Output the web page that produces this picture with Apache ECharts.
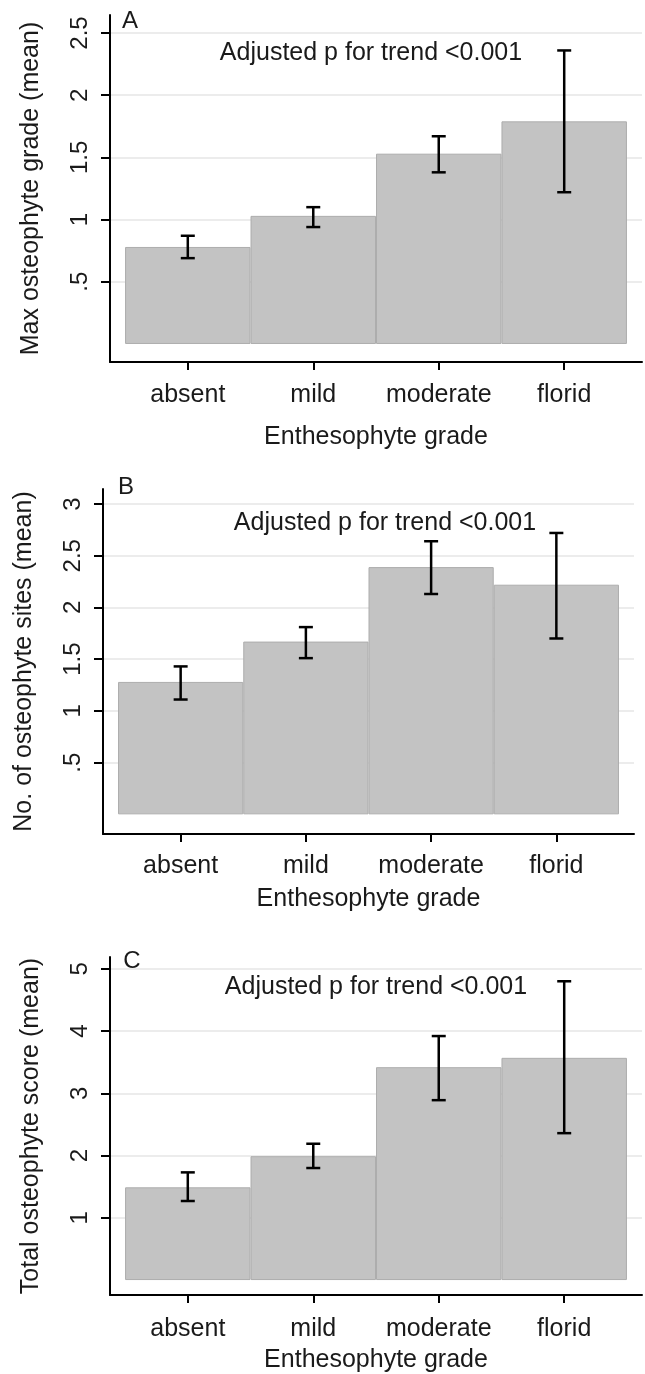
<!DOCTYPE html>
<html>
<head>
<meta charset="utf-8">
<script src="https://cdn.jsdelivr.net/npm/echarts@6/dist/echarts.min.js"></script>
<style>
  html, body { margin: 0; padding: 0; background: #fff; }
  #main { width: 645px; height: 1374px; }
</style>
</head>
<body>
<div id="main"></div>
<script>
var categories = ['absent', 'mild', 'moderate', 'florid'];
var catPos = [1, 2, 3, 4];

// A: max osteophyte grade
var maxGradeMean = [0.78, 1.03, 1.53, 1.79];
var maxGradeLow = [0.69, 0.94, 1.38, 1.22];
var maxGradeHigh = [0.87, 1.10, 1.67, 2.36];
var ticksA = [0.5, 1, 1.5, 2, 2.5];
var tickLabelsA = ['.5', '1', '1.5', '2', '2.5'];

// B: number of osteophyte sites
var sitesMean = [1.28, 1.67, 2.39, 2.22];
var sitesLow = [1.11, 1.51, 2.13, 1.70];
var sitesHigh = [1.43, 1.81, 2.64, 2.72];
var ticksB = [0.5, 1, 1.5, 2, 2.5, 3];
var tickLabelsB = ['.5', '1', '1.5', '2', '2.5', '3'];

// C: total osteophyte score
var scoreMean = [1.49, 1.99, 3.42, 3.57];
var scoreLow = [1.27, 1.80, 2.89, 2.36];
var scoreHigh = [1.73, 2.19, 3.92, 4.80];
var ticksC = [1, 2, 3, 4, 5];
var tickLabelsC = ['1', '2', '3', '4', '5'];

var FONT = 'Liberation Sans, Arial, sans-serif';
var TXT = '#1a1a1a';
var chart = echarts.init(document.getElementById('main'));

var panels = [
    { grid: { left: 110, right: 3, top: 15, height: 347 }, yMin: -0.145, yMax: 2.645,
      ticks: ticksA, tickLabels: tickLabelsA, yName: 'Max osteophyte grade (mean)', xGap: 63, labMargin: 21,
      mean: maxGradeMean, low: maxGradeLow, high: maxGradeHigh,
      letter: 'A', letterPos: [130, 21], notePos: [371, 53] },
    { grid: { left: 103, right: 11, top: 489, height: 345 }, yMin: -0.19, yMax: 3.145,
      ticks: ticksB, tickLabels: tickLabelsB, yName: 'No. of osteophyte sites (mean)', xGap: 53, labMargin: 20,
      mean: sitesMean, low: sitesLow, high: sitesHigh,
      letter: 'B', letterPos: [126, 487], notePos: [385, 523] },
    { grid: { left: 110, right: 3, top: 957, height: 342 }, yMin: -0.24, yMax: 5.19,
      ticks: ticksC, tickLabels: tickLabelsC, yName: 'Total osteophyte score (mean)', xGap: 53, labMargin: 22,
      mean: scoreMean, low: scoreLow, high: scoreHigh,
      letter: 'C', letterPos: [132, 961], notePos: [376, 987] }
];

var grids = [], xAxes = [], yAxes = [], series = [], graphics = [];

panels.forEach(function (p, i) {
    grids.push(p.grid);
    xAxes.push({
        type: 'value', gridIndex: i, min: 0.38, max: 4.62,
        name: 'Enthesophyte grade', nameLocation: 'middle', nameGap: p.xGap,
        nameTextStyle: { fontFamily: FONT, fontSize: 25, color: TXT },
        axisLine: { show: true, onZero: false, lineStyle: { color: '#000', width: 2 } },
        axisTick: { show: true, length: 8, customValues: catPos, lineStyle: { color: '#000', width: 2 } },
        axisLabel: { customValues: catPos, margin: p.labMargin, fontFamily: FONT, fontSize: 25, color: TXT,
            formatter: function (v) { return categories[Math.round(v) - 1]; } },
        splitLine: { show: false }
    });
    yAxes.push({
        type: 'value', gridIndex: i, min: p.yMin, max: p.yMax,
        name: p.yName, nameLocation: 'middle', nameGap: 66,
        nameTextStyle: { fontFamily: FONT, fontSize: 25, color: TXT },
        axisLine: { show: true, lineStyle: { color: '#000', width: 2 } },
        axisTick: { show: true, length: 9, customValues: p.ticks, lineStyle: { color: '#000', width: 2 } },
        axisLabel: { customValues: p.ticks, rotate: 90, margin: 18, fontFamily: FONT, fontSize: 24, color: TXT,
            formatter: function (v) { return p.tickLabels[p.ticks.indexOf(v)]; } },
        splitLine: { show: true, lineStyle: { color: '#ececec', width: 2 } }
    });
    series.push({
        type: 'bar', xAxisIndex: i, yAxisIndex: i,
        barCategoryGap: '0%',
        itemStyle: { color: '#c3c3c3', borderColor: '#adadad', borderWidth: 1 },
        data: p.mean.map(function (m, k) { return [catPos[k], m]; }),
        silent: true
    });
    // error bars (CI) drawn through the axes' own coordinate system
    series.push({
        type: 'custom', xAxisIndex: i, yAxisIndex: i, z: 5,
        data: p.low.map(function (lo, k) { return [catPos[k], lo, p.high[k]]; }),
        renderItem: function (params, api) {
            var x = api.value(0);
            var lo = api.coord([x, api.value(1)]);
            var hi = api.coord([x, api.value(2)]);
            var w = 7;
            var st = { stroke: '#000', lineWidth: 2.5 };
            return {
                type: 'group',
                children: [
                    { type: 'line', shape: { x1: lo[0], y1: lo[1], x2: hi[0], y2: hi[1] }, style: st },
                    { type: 'line', shape: { x1: hi[0] - w, y1: hi[1], x2: hi[0] + w, y2: hi[1] }, style: st },
                    { type: 'line', shape: { x1: lo[0] - w, y1: lo[1], x2: lo[0] + w, y2: lo[1] }, style: st }
                ]
            };
        }
    });
    graphics.push({
        type: 'text', x: p.letterPos[0], y: p.letterPos[1],
        style: { text: p.letter, font: '24px ' + FONT, fill: TXT, align: 'center', verticalAlign: 'middle' }
    });
    graphics.push({
        type: 'text', x: p.notePos[0], y: p.notePos[1],
        style: { text: 'Adjusted p for trend <0.001', font: '25px ' + FONT, fill: TXT, align: 'center', verticalAlign: 'middle' }
    });
});

var option = {
    backgroundColor: '#fff',
    animation: false,
    grid: grids,
    xAxis: xAxes,
    yAxis: yAxes,
    series: series,
    graphic: graphics
};

option && chart.setOption(option);
window.addEventListener('resize', chart.resize);
</script>
</body>
</html>
